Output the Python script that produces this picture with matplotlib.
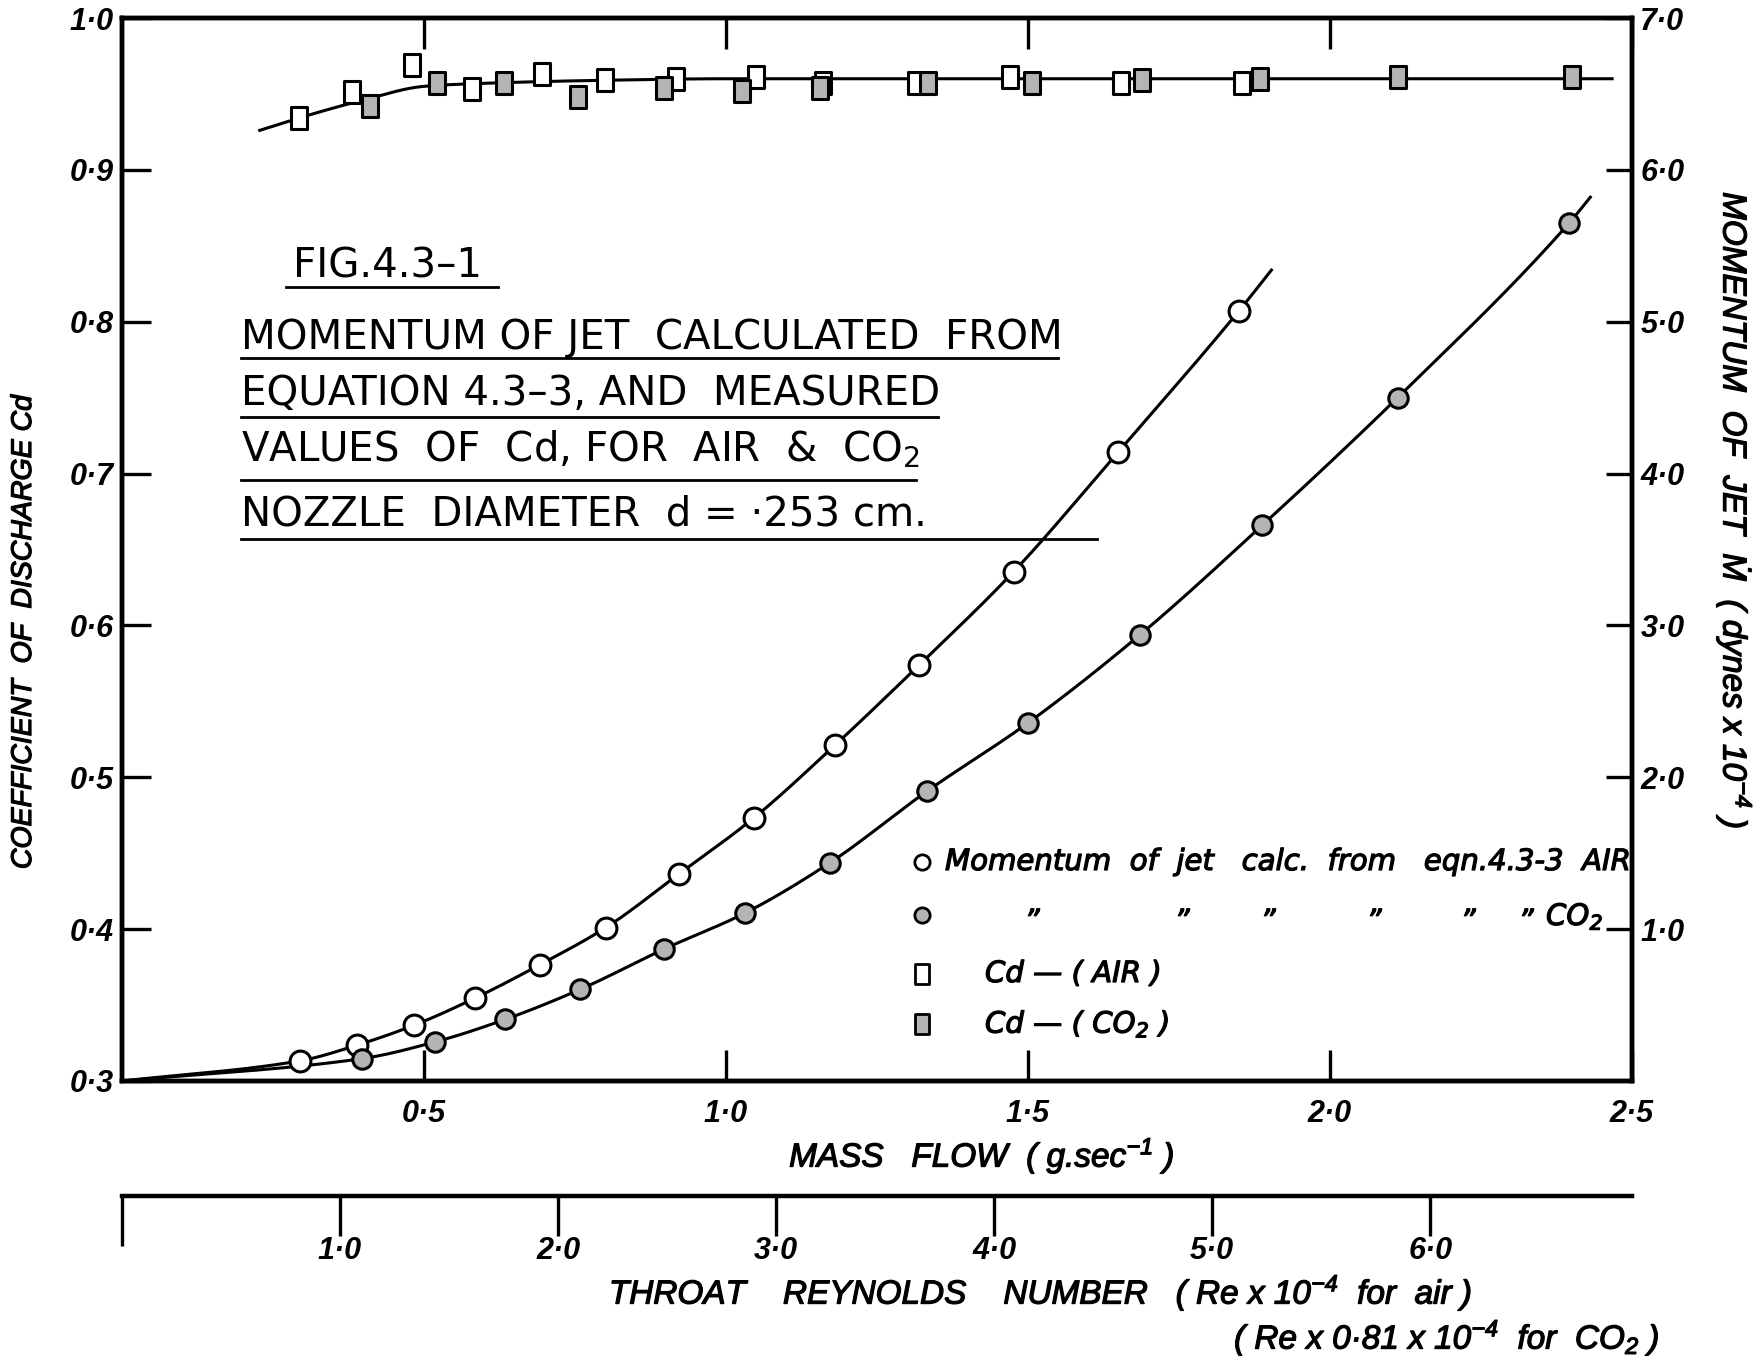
import numpy as np
import matplotlib
matplotlib.use("Agg")
import matplotlib.pyplot as plt
import matplotlib.patheffects as pe
from matplotlib.path import Path
from matplotlib.lines import Line2D
from matplotlib.ticker import FixedLocator, FuncFormatter
from matplotlib.font_manager import FontProperties

# ---- measured data (mass flow in g/s) ----
air_mass = [0.295, 0.389, 0.484, 0.584, 0.692, 0.801, 0.922, 1.046, 1.180, 1.320, 1.476, 1.649, 1.849]
air_momentum = [0.133, 0.236, 0.368, 0.545, 0.766, 1.01, 1.363, 1.732, 2.21, 2.74, 3.353, 4.14, 5.07]

co2_mass = [0.397, 0.519, 0.634, 0.759, 0.898, 1.031, 1.172, 1.333, 1.500, 1.686, 1.888, 2.112, 2.396]
co2_momentum = [0.147, 0.258, 0.405, 0.604, 0.87, 1.105, 1.437, 1.909, 2.358, 2.94, 3.66, 4.50, 5.65]

air_cd_mass = [0.293, 0.380, 0.480, 0.579, 0.695, 0.799, 0.918, 1.050, 1.161, 1.315, 1.471, 1.654, 1.855]
air_cd = [0.934, 0.951, 0.969, 0.953, 0.963, 0.959, 0.960, 0.961, 0.957, 0.957, 0.961, 0.957, 0.957]

co2_cd_mass = [0.410, 0.521, 0.632, 0.755, 0.898, 1.026, 1.155, 1.335, 1.506, 1.689, 1.884, 2.112, 2.400]
co2_cd = [0.942, 0.957, 0.957, 0.948, 0.954, 0.952, 0.954, 0.957, 0.957, 0.959, 0.960, 0.961, 0.961]

# ---- faired curves drawn through the data ----
air_fit_mass = [0.0] + air_mass + [1.903]
air_fit_mom = [0.0] + air_momentum + [5.34]
co2_fit_mass = [0.0] + co2_mass + [2.431]
co2_fit_mom = [0.0] + co2_momentum + [5.82]
cd_fit_mass = [0.228, 0.30, 0.40, 0.50, 0.60, 0.80, 1.00, 1.50, 2.00, 2.467]
cd_fit = [0.926, 0.935, 0.946, 0.955, 0.957, 0.959, 0.960, 0.960, 0.960, 0.960]

mass_ticks = [0.5, 1.0, 1.5, 2.0, 2.5]
cd_ticks = [0.3, 0.4, 0.5, 0.6, 0.7, 0.8, 0.9, 1.0]
mom_ticks = [1.0, 2.0, 3.0, 4.0, 5.0, 6.0, 7.0]
re_ticks = [1.0, 2.0, 3.0, 4.0, 5.0, 6.0]
re_per_mass = 1 / 0.361   # Re x 10^-4 per g/s (air)

W, H, DPI = 1756, 1363, 100
LETTER = ["Liberation Sans", "DejaVu Sans"]
WIDE = ["DejaVu Sans"]
HEAD = ["DejaVu Sans"]
INK = [pe.withStroke(linewidth=0.9, foreground="black")]


def fx(px):
    return px / W


def fy(py):
    return 1 - py / H


def pchip(x, y, xn):
    x = np.asarray(x, float)
    y = np.asarray(y, float)
    h = np.diff(x)
    d = np.diff(y) / h
    m = np.zeros_like(y)
    for k in range(1, len(x) - 1):
        if d[k - 1] * d[k] > 0:
            w1 = 2 * h[k] + h[k - 1]
            w2 = h[k] + 2 * h[k - 1]
            m[k] = (w1 + w2) / (w1 / d[k - 1] + w2 / d[k])
    m[0], m[-1] = d[0], d[-1]
    i = np.clip(np.searchsorted(x, xn) - 1, 0, len(h) - 1)
    t = (xn - x[i]) / h[i]
    return ((2 * t**3 - 3 * t**2 + 1) * y[i] + (t**3 - 2 * t**2 + t) * h[i] * m[i]
            + (-2 * t**3 + 3 * t**2) * y[i + 1] + (t**3 - t**2) * h[i] * m[i + 1])


def dotfmt(v, _pos=None):
    return f"{v:.1f}".replace(".", "\u00b7")


fig = plt.figure(figsize=(W / DPI, H / DPI), dpi=DPI)
ax = fig.add_axes([fx(122), fy(1081), 1510 / W, 1063 / H])
ax2 = ax.twinx()

ax.set_xlim(0, 2.5)
ax.set_ylim(0.3, 1.0)
ax2.set_ylim(0, 7)

for a in (ax, ax2):
    for s in a.spines.values():
        s.set_linewidth(3.2)
    a.patch.set_visible(False)

tick_font = FontProperties(family=LETTER, style="italic", weight="bold", size=22)

ax.xaxis.set_major_locator(FixedLocator(mass_ticks))
ax.xaxis.set_major_formatter(FuncFormatter(dotfmt))
ax.yaxis.set_major_locator(FixedLocator(cd_ticks))
ax.yaxis.set_major_formatter(FuncFormatter(dotfmt))
ax.tick_params(axis="x", direction="in", length=22, width=2.4, top=True, bottom=True, pad=13)
ax.tick_params(axis="y", direction="in", length=21, width=2.4, left=True, right=False, pad=6)
ax2.yaxis.set_major_locator(FixedLocator(mom_ticks))
ax2.yaxis.set_major_formatter(FuncFormatter(dotfmt))
ax2.tick_params(axis="y", direction="in", length=19, width=2.4, pad=6)
for lab in ax.get_xticklabels() + ax.get_yticklabels() + ax2.get_yticklabels():
    lab.set_fontproperties(tick_font)

# momentum curves and points
xa = np.linspace(air_fit_mass[0], air_fit_mass[-1], 400)
ax2.plot(xa, pchip(air_fit_mass, air_fit_mom, xa), color="black", lw=2.2, zorder=2)
xc = np.linspace(co2_fit_mass[0], co2_fit_mass[-1], 400)
ax2.plot(xc, pchip(co2_fit_mass, co2_fit_mom, xc), color="black", lw=2.2, zorder=2)
ax2.plot(air_mass, air_momentum, ls="none", marker="o", ms=15, mfc="white", mec="black", mew=2.2, zorder=3)
ax2.plot(co2_mass, co2_momentum, ls="none", marker="o", ms=14, mfc="#b4b4b4", mec="black", mew=2.2, zorder=3)

# discharge coefficient curve and points
rect = Path([(-0.38, -0.5), (0.38, -0.5), (0.38, 0.5), (-0.38, 0.5), (-0.38, -0.5)],
            [Path.MOVETO, Path.LINETO, Path.LINETO, Path.LINETO, Path.CLOSEPOLY])
xf = np.linspace(cd_fit_mass[0], cd_fit_mass[-1], 400)
ax.plot(xf, pchip(cd_fit_mass, cd_fit, xf), color="black", lw=2.2, zorder=2)
ax.plot(air_cd_mass, air_cd, ls="none", marker=rect, ms=16, mfc="white", mec="black", mew=2.2, zorder=3)
ax.plot(co2_cd_mass, co2_cd, ls="none", marker=rect, ms=16, mfc="#b4b4b4", mec="black", mew=2.2, zorder=3)

# key: symbols
key_font = dict(family=WIDE, style="italic", size=21, path_effects=INK)
key_symbols = [
    (862, "o", 11, "white"),
    (915, "o", 11, "#b4b4b4"),
    (974, rect, 14, "white"),
    (1024, rect, 14, "#b4b4b4"),
]
for yk, mk, ms, fc in key_symbols:
    fig.add_artist(Line2D([fx(922)], [fy(yk)], transform=fig.transFigure, ls="none", marker=mk,
                          ms=ms, mfc=fc, mec="black", mew=2))

# key: lettering
key_lines = [
    (945, 862, "Momentum  of  jet   calc.  from   eqn.4.3-3  AIR"),
    (985, 974, "Cd \u2014 ( AIR )"),
    (985, 1024, "Cd \u2014 ( CO$\\mathregular{_2}$ )"),
]
for xk, yk, w in key_lines:
    fig.text(fx(xk), fy(yk), w, ha="left", va="center", **key_font)
for xd in (1032, 1182, 1268, 1374, 1468, 1526):
    fig.text(fx(xd), fy(922), "\u201d", ha="center", va="center", **key_font)
fig.text(fx(1546), fy(917), "CO$\\mathregular{_2}$", ha="left", va="center", **key_font)

# Reynolds number scale beneath the mass-flow axis
axr = fig.add_axes([fx(122), fy(1196), 1510 / W, 0.0001])
axr.set_xlim(0, 2.5 * re_per_mass)
axr.set_yticks([])
for side in ("left", "right", "top"):
    axr.spines[side].set_visible(False)
axr.spines["bottom"].set_linewidth(3.2)
axr.xaxis.set_major_locator(FixedLocator(re_ticks))
axr.xaxis.set_minor_locator(FixedLocator([0.0]))
axr.xaxis.set_major_formatter(FuncFormatter(dotfmt))
axr.tick_params(axis="x", which="major", direction="out", length=29, width=2.4, pad=0)
axr.tick_params(axis="x", which="minor", direction="out", length=36, width=2.4)
for lab in axr.get_xticklabels():
    lab.set_fontproperties(tick_font)

# axis titles
lab_font = dict(family=LETTER, style="italic", size=24, path_effects=INK)
fig.text(fx(982), fy(1156), "MASS   FLOW  ( g.sec$\\mathregular{^{-1}}$ )", ha="center", va="center", **lab_font)
fig.text(fx(24), fy(632), "COEFFICIENT  OF  DISCHARGE Cd", rotation=90, ha="center", va="center",
         family=LETTER, style="italic", size=20.5, path_effects=INK)
fig.text(fx(1734), fy(511), "MOMENTUM  OF  JET  \u1e40  ( dynes x 10$\\mathregular{^{-4}}$ )", rotation=270,
         ha="center", va="center", **lab_font)
fig.text(fx(1041), fy(1293), "THROAT    REYNOLDS    NUMBER   ( Re x 10$\\mathregular{^{-4}}$  for  air )",
         ha="center", va="center", **lab_font)
fig.text(fx(1447), fy(1338), "( Re x 0\u00b781 x 10$\\mathregular{^{-4}}$  for  CO$\\mathregular{_2}$ )",
         ha="center", va="center", **lab_font)

# figure caption block, each line underlined
head_font = dict(family=HEAD, size=29)
caption = [
    (293, 278, "FIG.4.3\u20131", 287, 286, 498),
    (241, 349, "MOMENTUM OF JET  CALCULATED  FROM", 358, 241, 1058),
    (241, 405, "EQUATION 4.3\u20133, AND  MEASURED", 417, 241, 938),
    (241, 461, "VALUES  OF  Cd, FOR  AIR  &  CO$\\mathregular{_2}$", 480, 241, 916),
    (241, 526, "NOZZLE  DIAMETER  d = \u00b7253 cm.", 539, 241, 1097),
]
for x, yb, s, yu, u0, u1 in caption:
    fig.text(fx(x), fy(yb), s, ha="left", va="baseline", **head_font)
    fig.add_artist(Line2D([fx(u0), fx(u1)], [fy(yu), fy(yu)], transform=fig.transFigure,
                          color="black", lw=2.0))

fig.savefig("out.png", dpi=DPI, facecolor="white")
